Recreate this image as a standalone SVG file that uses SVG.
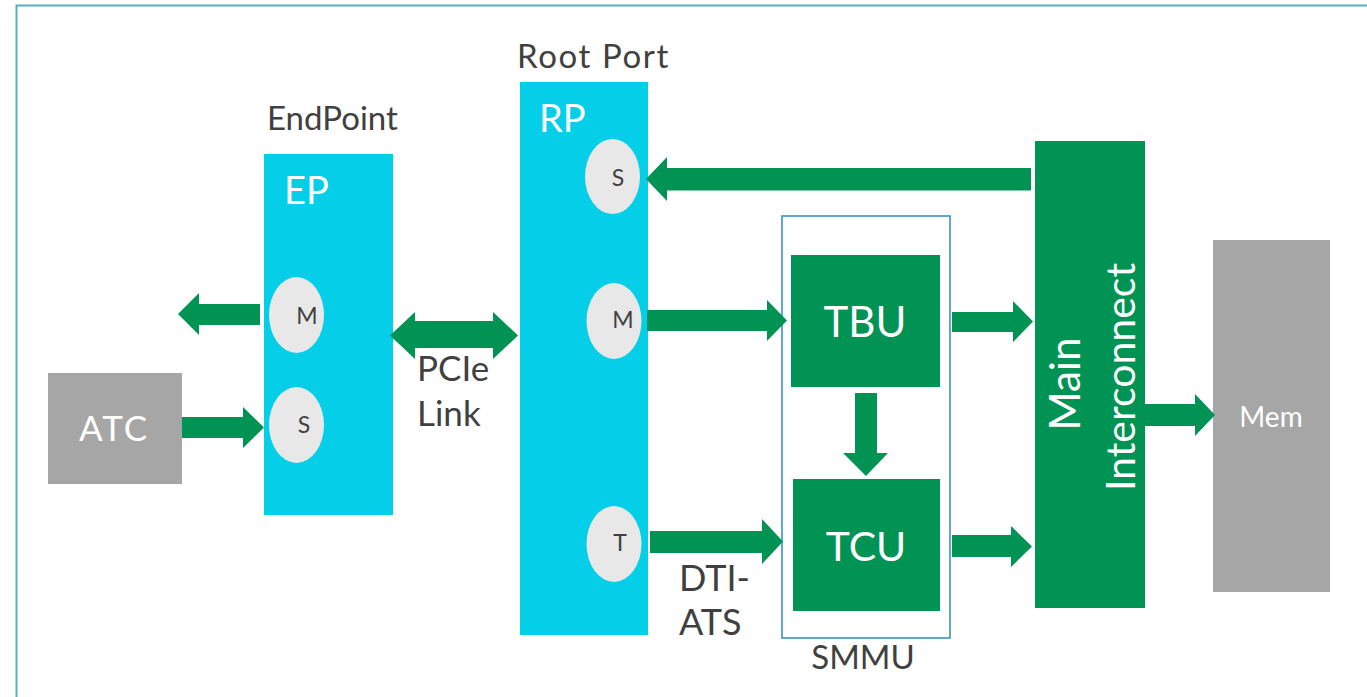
<svg xmlns="http://www.w3.org/2000/svg" width="1367" height="697" viewBox="0 0 1367 697">
  <style>
    .lbl { font-family: Lato, "Liberation Sans", sans-serif; fill: #404040; }
    .wht { font-family: Lato, "Liberation Sans", sans-serif; fill: #ffffff; }
    .port { fill: #e8e8e8; }
    .pl { font-family: Lato, "Liberation Sans", sans-serif; fill: #404040; font-size: 23px; text-anchor: middle; }
    .blk { fill: #05cfe8; }
    .grn { fill: #009354; }
    .gry { fill: #a6a6a6; }
    .arrow { fill: #009354; }
  </style>

  <!-- slide frame -->
  <rect x="16.5" y="5.5" width="1400" height="800" fill="#ffffff" stroke="#5badc6" stroke-width="2"/>

  <!-- ATC -->
  <g id="atc">
    <rect class="gry" x="48" y="373" width="134" height="111"/>
    <text class="wht" x="114" y="441" font-size="35" letter-spacing="2" text-anchor="middle">ATC</text>
  </g>

  <!-- EndPoint -->
  <g id="endpoint">
    <text class="lbl" x="267" y="130" font-size="33">EndPoint</text>
    <rect class="blk" x="264" y="154" width="129" height="361"/>
    <text class="wht" x="284" y="204" font-size="38">EP</text>
    <ellipse class="port" cx="296.5" cy="315" rx="27.5" ry="38"/>
    <text class="pl" x="307" y="324">M</text>
    <ellipse class="port" cx="296.5" cy="425" rx="27.5" ry="38"/>
    <text class="pl" x="304" y="433">S</text>
  </g>

  <!-- Root Port -->
  <g id="rootport">
    <text class="lbl" x="517" y="68" font-size="33" letter-spacing="1.6">Root Port</text>
    <rect class="blk" x="520" y="82" width="128" height="553"/>
    <text class="wht" x="539" y="132" font-size="38">RP</text>
    <ellipse class="port" cx="612.5" cy="176.5" rx="27.5" ry="37.5"/>
    <text class="pl" x="618" y="186">S</text>
    <ellipse class="port" cx="614" cy="321" rx="27.5" ry="38"/>
    <text class="pl" x="623" y="328">M</text>
    <ellipse class="port" cx="614" cy="544" rx="27.5" ry="38"/>
    <text class="pl" x="620" y="551">T</text>
  </g>

  <!-- SMMU -->
  <g id="smmu">
    <rect x="782" y="216" width="168" height="422" fill="none" stroke="#3a93c0" stroke-width="1.6"/>
    <text class="lbl" x="863" y="669" font-size="33" text-anchor="middle">SMMU</text>
  </g>

  <g id="tbu">
    <rect class="grn" x="791" y="255" width="149" height="132"/>
    <text class="wht" x="865" y="337" font-size="42" text-anchor="middle">TBU</text>
  </g>

  <g id="tcu">
    <rect class="grn" x="793" y="479" width="147" height="132"/>
    <text class="wht" x="866" y="561" font-size="41" text-anchor="middle">TCU</text>
  </g>

  <!-- Main Interconnect -->
  <g id="interconnect">
    <rect class="grn" x="1035" y="141" width="110" height="467"/>
    <text class="wht" font-size="42" text-anchor="middle" transform="translate(1080,384) rotate(-90)">Main</text>
    <text class="wht" font-size="41" text-anchor="middle" transform="translate(1135,377) rotate(-90)">Interconnect</text>
  </g>

  <!-- Memory -->
  <g id="mem">
    <rect class="gry" x="1213" y="240" width="117" height="352"/>
    <text class="wht" x="1271" y="427" font-size="28" text-anchor="middle">Mem</text>
  </g>

  <!-- link labels -->
  <g id="labels">
    <text class="lbl" x="417" y="381" font-size="35">PCIe</text>
    <text class="lbl" x="417" y="426" font-size="35">Link</text>
    <text class="lbl" x="679" y="591" font-size="36">DTI-</text>
    <text class="lbl" x="679" y="635" font-size="36">ATS</text>
  </g>

  <!-- connectors (block arrows) -->
  <g id="connectors">
    <!-- EP M out to the left -->
    <polygon class="arrow" points="260,304 199,304 199,293 178,314 199,335 199,325 260,325"/>
    <!-- ATC to EP S -->
    <polygon class="arrow" points="182,417 243,417 243,407 264,427.5 243,448 243,438 182,438"/>
    <!-- PCIe link, bidirectional -->
    <polygon class="arrow" points="390,335.5 415,312 415,321 493,321 493,312 518,335.5 493,359 493,348 415,348 415,359"/>
    <!-- Main Interconnect to RP S -->
    <polygon class="arrow" points="1031,168 667,168 667,157 646,179 667,201 667,190.5 1031,190.5"/>
    <!-- RP M to TBU -->
    <polygon class="arrow" points="647,310 767,310 767,300 787,320.5 767,341 767,331 647,331"/>
    <!-- RP T to TCU -->
    <polygon class="arrow" points="650,531 762,531 762,519 783,541.5 762,564 762,553 650,553"/>
    <!-- TBU to TCU -->
    <polygon class="arrow" points="855,393 877,393 877,453 888,453 866,476 843,453 855,453"/>
    <!-- TBU to Main Interconnect -->
    <polygon class="arrow" points="952,312 1013,312 1013,301 1033,321.5 1013,342 1013,332 952,332"/>
    <!-- TCU to Main Interconnect -->
    <polygon class="arrow" points="952,535 1011,535 1011,526 1032,546.5 1011,567 1011,557 952,557"/>
    <!-- Main Interconnect to Mem -->
    <polygon class="arrow" points="1145,404 1195,404 1195,394 1215,415 1195,436 1195,426 1145,426"/>
  </g>
</svg>
